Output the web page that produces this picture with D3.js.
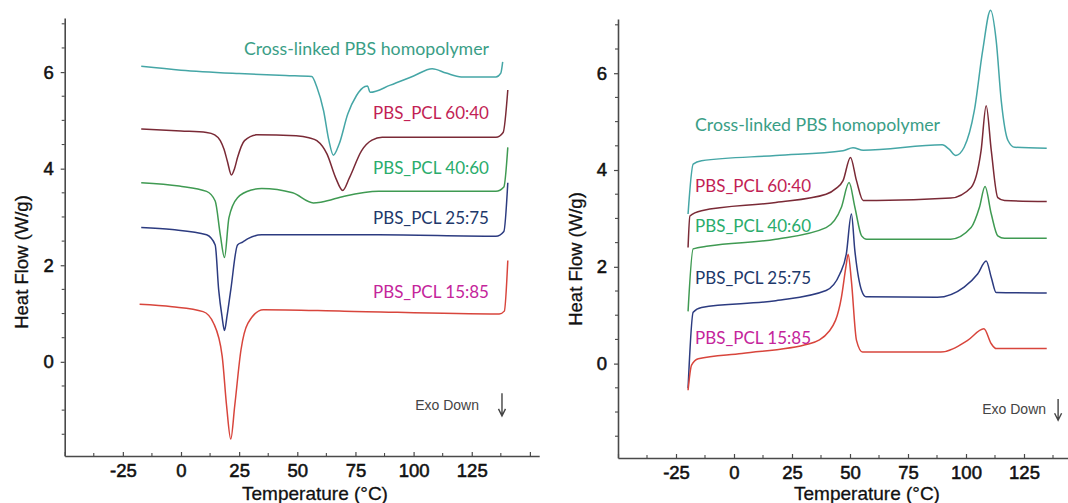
<!DOCTYPE html>
<html><head><meta charset="utf-8">
<script src="https://cdn.jsdelivr.net/npm/d3@7"></script>
<style>
body{margin:0;background:#fff;}
svg{display:block;font-family:Arial,"Liberation Sans",sans-serif;}
</style></head>
<body><svg id="c" width="1068" height="503"></svg>
<script>
// ---------- data: [temperature °C, heat flow W/g] ----------
// Left panel (cooling scans)
const leftCrosslinked = [[-17.1,6.12],[0,6.04],[25,5.97],[45,5.93],[56.2,5.91],[58.4,5.69],[61.3,5.20],[63.6,4.58],[65.5,4.28],[68.0,4.51],[71.7,5.13],[75.4,5.51],[79.1,5.70],[80.2,5.71],[81.3,5.58],[90,5.73],[100,5.92],[108,6.07],[114,5.98],[120.5,5.90],[135.4,5.90],[137.5,5.98],[138.3,6.21]];
const left6040 = [[-17.1,4.82],[0,4.78],[11.0,4.75],[14.5,4.70],[16.9,4.58],[18.5,4.40],[19.9,4.16],[21.7,3.87],[23.0,4.00],[24.3,4.23],[27.3,4.58],[32.5,4.70],[49.5,4.68],[55,4.64],[58.4,4.58],[62.8,4.30],[66.5,3.81],[69.5,3.55],[72.4,3.81],[77.6,4.37],[82.1,4.59],[86.5,4.65],[135.4,4.65],[138.5,4.75],[140.5,5.63]];
const left4060 = [[-17.1,3.71],[-0.8,3.64],[11.0,3.53],[14.7,3.33],[16.9,2.63],[18.7,2.16],[20.6,2.98],[24.3,3.40],[30.3,3.56],[34.7,3.59],[48.0,3.50],[56.9,3.29],[60.6,3.31],[70.2,3.43],[85.0,3.53],[135.4,3.53],[138.8,3.62],[140.5,4.44]];
const left2575 = [[-17.1,2.78],[-3.8,2.74],[11.0,2.63],[14.7,2.42],[16.2,1.49],[17.6,0.95],[18.7,0.65],[19.8,0.95],[21.4,1.49],[24.3,2.42],[26.5,2.48],[28.8,2.55],[34.7,2.63],[85.0,2.63],[135.4,2.60],[138.8,2.70],[140.5,3.71]];
const left1585 = [[-17.8,1.19],[-3.8,1.14],[9.5,1.04],[14.0,0.80],[17.7,0.12],[19.6,-0.91],[21.4,-1.60],[23.1,-0.91],[25.8,0.25],[28.8,0.80],[35.4,1.08],[70.2,1.05],[136.8,0.99],[139.0,1.05],[140.5,2.10]];

// Right panel (heating scans)
const rightCrosslinked = [[-19.8,3.09],[-17.6,4.12],[-14.0,4.19],[18.0,4.30],[47.0,4.40],[51.3,4.46],[55.7,4.41],[89.8,4.52],[92.7,4.43],[95.6,4.30],[99.2,4.47],[103.6,5.23],[107.2,6.47],[110.6,7.30],[113.0,6.68],[115.2,5.43],[118.1,4.61],[121.0,4.47],[134.8,4.45]];
const right6040 = [[-19.8,2.40],[-19.0,3.05],[-14.0,3.16],[18.0,3.33],[39.7,3.50],[44.0,3.62],[47.0,3.78],[50.2,4.26],[52.8,3.78],[55.7,3.37],[61.5,3.37],[93.4,3.42],[102.2,3.64],[106.5,4.40],[108.7,5.33],[110.9,4.40],[113.7,3.43],[116.6,3.37],[134.8,3.35]];
const right4060 = [[-19.8,1.08],[-17.6,2.37],[-11.0,2.43],[18.0,2.57],[39.7,2.81],[46.3,3.23],[49.6,3.74],[52.1,3.23],[55.0,2.64],[57.2,2.57],[93.4,2.57],[102.2,2.81],[105.8,3.23],[108.2,3.66],[110.9,3.09],[113.7,2.64],[116.6,2.59],[134.8,2.59]];
const right2575 = [[-19.8,-0.51],[-17.6,1.06],[-14.0,1.16],[18.0,1.30],[39.7,1.51],[45.6,1.85],[48.4,2.26],[50.6,3.09],[52.1,2.33],[55.0,1.51],[56.9,1.38],[87.6,1.37],[99.2,1.58],[105.0,1.85],[108.7,2.12],[110.9,1.78],[113.0,1.47],[134.8,1.46]];
const right1585 = [[-19.8,-0.55],[-18.3,-0.03],[-15.4,0.10],[3.4,0.21],[32.5,0.41],[41.2,0.68],[46.3,1.37],[48.4,2.05],[49.2,2.26],[50.6,1.71],[52.8,0.48],[55.4,0.24],[89.1,0.24],[100.7,0.48],[107.7,0.72],[110.9,0.41],[113.0,0.31],[134.8,0.31]];

const seriesNames = ["Cross-linked PBS homopolymer","PBS_PCL 60:40","PBS_PCL 40:60","PBS_PCL 25:75","PBS_PCL 15:85"];
const lineColors  = ["#45a6a6","#7a2a36","#3f9a52","#2c3b80","#d8453c"];
const labelColors = ["#3a9e86","#c21f55","#2aac6c","#21386a","#c4259b"];
const leftSeries  = [leftCrosslinked,left6040,left4060,left2575,left1585];
const rightSeries = [rightCrosslinked,right6040,right4060,right2575,right1585];

// annotation anchor points (data coordinates)
const leftLabelT = 132.4, leftLabelV = [6.49,5.17,4.02,2.98,1.45];
const rightLabelT = -16.8, rightLabelV = [4.95,3.68,2.85,1.77,0.53];
const labelWidths = [245,116,116,116,116];

const xTicksMajor = [-50,-25,0,25,50,75,100,125,150];
const xTickLabels = [-25,0,25,50,75,100,125];
const yTicksMajor = [0,2,4,6];
const yMinor = d3.range(-1.5,7.01,0.5);
const xMinor = d3.range(-37.5,151,25);

const svg = d3.select("#c");
const FONT = "Arial,'Liberation Sans',sans-serif";

function panel(cfg){
  const x = d3.scaleLinear().domain(cfg.xDomain).range(cfg.xRange);
  const y = d3.scaleLinear().domain([-1.95,7.12]).range(cfg.yRange);
  const g = svg.append("g");
  const axisColor = "#4a4a4a";

  // curves
  const line = d3.line().x(d=>x(d[0])).y(d=>y(d[1])).curve(d3.curveMonotoneX);
  cfg.series.forEach((s,i)=>{
    g.append("path").attr("d",line(s)).attr("fill","none")
      .attr("stroke",lineColors[i]).attr("stroke-width",1.5).attr("stroke-linejoin","round");
  });

  // x axis
  const xAxis = d3.axisBottom(x).tickValues(xTicksMajor).tickSizeInner(-4).tickSizeOuter(0)
    .tickFormat(d=>xTickLabels.includes(d)?String(d):"");
  const gx = g.append("g").attr("transform",`translate(0,${cfg.yRange[0]})`).call(xAxis);
  gx.attr("font-family",FONT);
  gx.select(".domain").attr("stroke",axisColor).attr("stroke-width",1.6);
  gx.selectAll(".tick line").attr("stroke",axisColor).attr("stroke-width",1.2);
  gx.selectAll(".tick text").attr("y",21).attr("dy",0).attr("font-size",18.5)
    .attr("fill","#111").attr("stroke","#111").attr("stroke-width",0.55);
  gx.selectAll(".minor").data(xMinor).enter().append("line")
    .attr("x1",d=>x(d)).attr("x2",d=>x(d)).attr("y1",0).attr("y2",-3)
    .attr("stroke",axisColor).attr("stroke-width",1.1);

  // y axis
  const yAxis = d3.axisLeft(y).tickValues(yTicksMajor).tickSizeInner(4).tickSizeOuter(0).tickFormat(d3.format("d"));
  const gy = g.append("g").attr("transform",`translate(${cfg.xRange[0]},0)`).call(yAxis);
  gy.attr("font-family",FONT);
  gy.select(".domain").attr("stroke",axisColor).attr("stroke-width",1.6);
  gy.selectAll(".tick line").attr("stroke",axisColor).attr("stroke-width",1.2);
  gy.selectAll(".tick text").attr("x",-11).attr("font-size",18.5)
    .attr("fill","#111").attr("stroke","#111").attr("stroke-width",0.55);
  gy.selectAll(".minor").data(yMinor.filter(v=>!yTicksMajor.includes(v))).enter().append("line")
    .attr("y1",d=>y(d)).attr("y2",d=>y(d)).attr("x1",0).attr("x2",-3)
    .attr("stroke",axisColor).attr("stroke-width",1.1);

  // axis titles
  g.append("text").attr("x",cfg.xTitleX).attr("y",500).attr("text-anchor","middle")
    .attr("font-family",FONT).attr("font-size",19).attr("fill","#111")
    .attr("stroke","#111").attr("stroke-width",0.3).text("Temperature (°C)");
  g.append("text").attr("transform",`translate(${cfg.yTitleX},${cfg.yTitleY}) rotate(-90)`)
    .attr("text-anchor","middle").attr("dominant-baseline","central")
    .attr("font-family",FONT).attr("font-size",18.5).attr("fill","#111")
    .attr("stroke","#111").attr("stroke-width",0.3).text("Heat Flow (W/g)");

  // series labels
  seriesNames.forEach((n,i)=>{
    g.append("text").attr("x",x(cfg.labelT)).attr("y",y(cfg.labelV[i]))
      .attr("text-anchor",cfg.labelAnchor).attr("dominant-baseline","central")
      .attr("font-family","Lato,'Open Sans',sans-serif").attr("font-size",17.5)
      .attr("textLength",labelWidths[i]).attr("lengthAdjust","spacingAndGlyphs")
      .attr("fill",labelColors[i]).text(n);
  });

  // Exo Down annotation
  g.append("text").attr("x",x(cfg.exoT)).attr("y",y(cfg.exoV)).attr("text-anchor","end")
    .attr("dominant-baseline","central").attr("font-family",FONT).attr("font-size",14).attr("fill","#444")
    .text("Exo Down");
  const ax = x(cfg.arrowT), ay1 = y(cfg.arrowV[0]), ay2 = y(cfg.arrowV[1]);
  g.append("path").attr("d",`M${ax},${ay1}V${ay2}M${ax-3.5},${ay2-7}L${ax},${ay2}L${ax+3.5},${ay2-7}`)
    .attr("fill","none").attr("stroke","#444").attr("stroke-width",1.4);
}

panel({xDomain:[-50,154], xRange:[64.7,539.2], yRange:[456,18], series:leftSeries,
  labelT:leftLabelT, labelV:leftLabelV, labelAnchor:"end",
  exoT:128.1, exoV:-0.89, arrowT:138.0, arrowV:[-0.65,-1.12],
  xTitleX:315, yTitleX:21, yTitleY:262});
panel({xDomain:[-50,150], xRange:[618,1082], yRange:[458,19], series:rightSeries,
  labelT:rightLabelT, labelV:rightLabelV, labelAnchor:"start",
  exoT:134.5, exoV:-0.94, arrowT:139.7, arrowV:[-0.73,-1.17],
  xTitleX:867, yTitleX:575, yTitleY:259});
</script></body></html>
